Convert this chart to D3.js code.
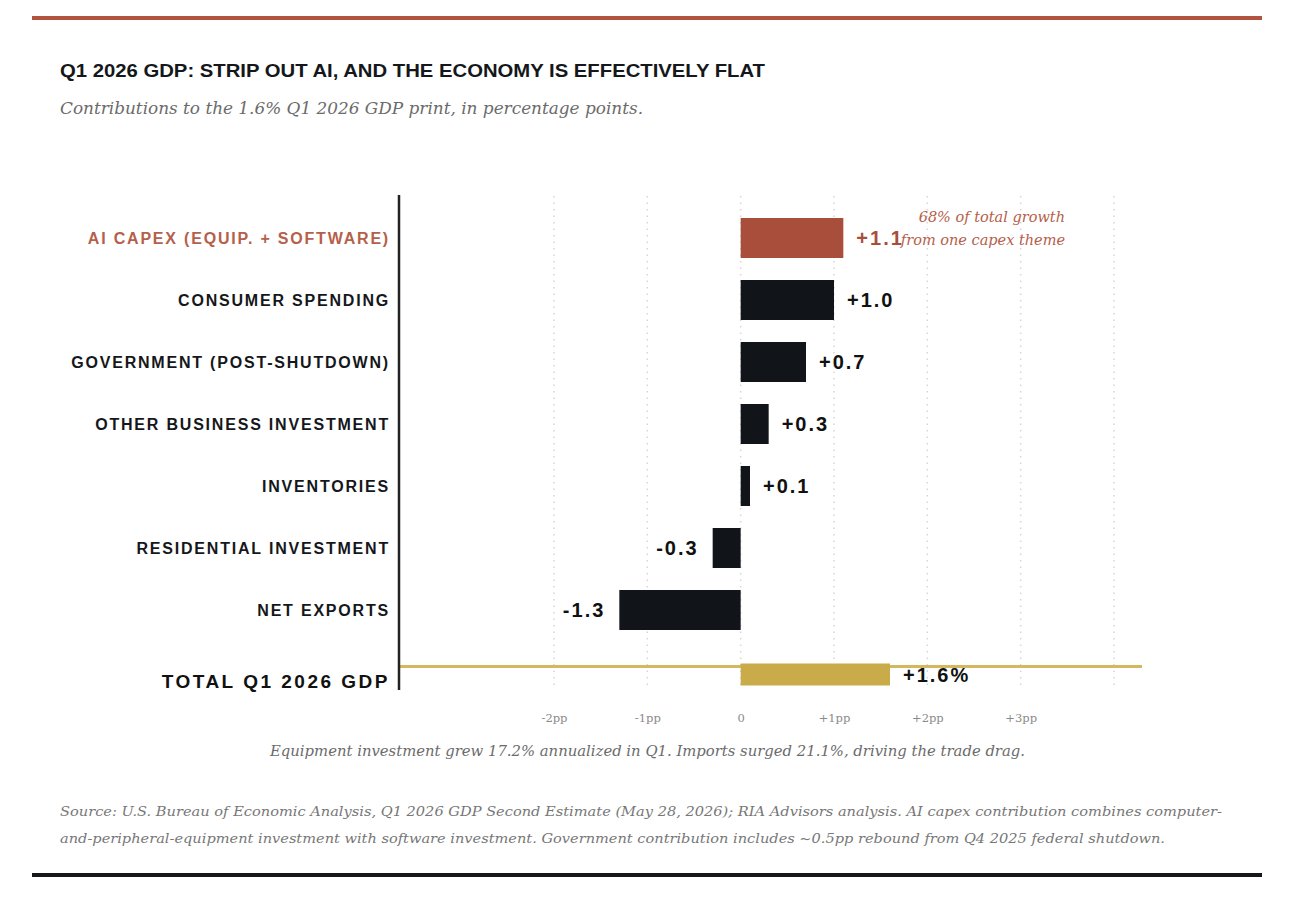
<!DOCTYPE html>
<html>
<head>
<meta charset="utf-8">
<script src="https://cdn.jsdelivr.net/npm/d3@7"></script>
<style>
  html, body { margin: 0; padding: 0; background: #fff; }
  svg { display: block; }
</style>
</head>
<body>
<svg id="chart" width="1308" height="924"></svg>
<script>
// Data
const categories = [
    'AI CAPEX (EQUIP. + SOFTWARE)',
    'CONSUMER SPENDING',
    'GOVERNMENT (POST-SHUTDOWN)',
    'OTHER BUSINESS INVESTMENT',
    'INVENTORIES',
    'RESIDENTIAL INVESTMENT',
    'NET EXPORTS'
];
const contributions = [1.1, 1.0, 0.7, 0.3, 0.1, -0.3, -1.3];
const totalLabel = 'TOTAL Q1 2026 GDP';
const totalValue = 1.6;
const gridTicks = [-2, -1, 0, 1, 2, 3, 4];
const axisTicks = [-2, -1, 0, 1, 2, 3];

const RUST = '#a84e3a';
const INK = '#111418';
const GOLD = '#c9ab4a';
const SANS = '"Liberation Sans", Arial, sans-serif';
const SERIF = '"DejaVu Serif", Georgia, serif';

const svg = d3.select('#chart');

// Top and bottom rules
svg.append('rect').attr('x', 32).attr('y', 16).attr('width', 1230).attr('height', 4).attr('fill', '#b0533f');
svg.append('rect').attr('x', 32).attr('y', 873).attr('width', 1230).attr('height', 4).attr('fill', '#15171b');

// Title + subtitle
svg.append('text')
    .attr('x', 60).attr('y', 77)
    .attr('textLength', 705).attr('lengthAdjust', 'spacingAndGlyphs')
    .style('font-family', SANS).style('font-weight', 700).style('font-size', '18px')
    .attr('fill', '#15171b')
    .text('Q1 2026 GDP: STRIP OUT AI, AND THE ECONOMY IS EFFECTIVELY FLAT');

svg.append('text')
    .attr('x', 60).attr('y', 114)
    .attr('textLength', 583).attr('lengthAdjust', 'spacingAndGlyphs')
    .style('font-family', SERIF).style('font-style', 'italic').style('font-size', '16px')
    .attr('fill', '#6b6b6b')
    .text('Contributions to the 1.6% Q1 2026 GDP print, in percentage points.');

// Scales
const x = d3.scaleLinear().domain([-3.65, 4.3]).range([400, 1142]);
const y = d3.scaleBand().domain(categories).range([207, 641]).paddingInner(0.355).paddingOuter(0.1775);
const totalY = 675;
const totalH = 22;

// Dotted grid
svg.append('g')
    .selectAll('line')
    .data(gridTicks)
    .join('line')
    .attr('x1', d => x(d)).attr('x2', d => x(d))
    .attr('y1', 196).attr('y2', 688)
    .attr('stroke', '#d6d6d6')
    .attr('stroke-width', 1.5)
    .attr('stroke-dasharray', '1.5,5');

// Bottom axis labels (no domain line)
const xAxis = svg.append('g')
    .attr('transform', 'translate(0,711)')
    .call(d3.axisBottom(x).tickValues(axisTicks).tickSize(0)
        .tickFormat(d => d === 0 ? '0' : (d > 0 ? '+' : '-') + Math.abs(d) + 'pp'));
xAxis.select('.domain').remove();
xAxis.selectAll('text')
    .style('font-family', SERIF).style('font-size', '11.5px').attr('fill', '#8a8a8a');

// Total reference line
svg.append('line')
    .attr('x1', 400).attr('x2', x(4.3))
    .attr('y1', 666.5).attr('y2', 666.5)
    .attr('stroke', '#d3b95e').attr('stroke-width', 3);

// Component bars
svg.append('g')
    .selectAll('rect')
    .data(categories)
    .join('rect')
    .attr('x', (d, i) => x(Math.min(0, contributions[i])))
    .attr('y', d => y(d))
    .attr('width', (d, i) => Math.abs(x(contributions[i]) - x(0)))
    .attr('height', y.bandwidth())
    .attr('fill', (d, i) => i === 0 ? RUST : INK);

// Total bar
svg.append('rect')
    .attr('x', x(0)).attr('y', totalY - totalH / 2 - 0.5)
    .attr('width', x(totalValue) - x(0)).attr('height', totalH)
    .attr('fill', GOLD);

// Category labels
svg.append('g')
    .selectAll('text')
    .data(categories)
    .join('text')
    .attr('x', 390)
    .attr('y', d => y(d) + y.bandwidth() / 2)
    .attr('dy', '0.36em')
    .attr('text-anchor', 'end')
    .style('font-family', SANS).style('font-weight', 700).style('font-size', '16px')
    .style('letter-spacing', '1.8px')
    .attr('fill', (d, i) => i === 0 ? '#b5604a' : '#15171b')
    .text(d => d);

svg.append('text')
    .attr('x', 390).attr('y', totalY + 13)
    .attr('text-anchor', 'end')
    .style('font-family', SANS).style('font-weight', 700).style('font-size', '19px')
    .style('letter-spacing', '2.5px')
    .attr('fill', '#111')
    .text(totalLabel);

// Value labels
const fmt = v => (v > 0 ? '+' : '-') + Math.abs(v).toFixed(1);
svg.append('g')
    .selectAll('text')
    .data(contributions)
    .join('text')
    .attr('x', v => v >= 0 ? x(v) + 13 : x(v) - 14)
    .attr('y', (v, i) => y(categories[i]) + y.bandwidth() / 2)
    .attr('dy', '0.36em')
    .attr('text-anchor', v => v >= 0 ? 'start' : 'end')
    .style('font-family', SANS).style('font-weight', 700).style('font-size', '20px')
    .style('letter-spacing', '2px')
    .attr('fill', (v, i) => i === 0 ? RUST : '#111')
    .text(fmt);

svg.append('text')
    .attr('x', x(totalValue) + 13).attr('y', totalY + 7)
    .style('font-family', SANS).style('font-weight', 700).style('font-size', '20px')
    .style('letter-spacing', '2px')
    .attr('fill', '#111')
    .text('+' + totalValue.toFixed(1) + '%');

// Annotation next to AI capex bar
const note = svg.append('text')
    .attr('text-anchor', 'end')
    .style('font-family', SERIF).style('font-style', 'italic').style('font-size', '14.5px')
    .attr('fill', '#b5604a');
note.append('tspan').attr('x', 1065).attr('y', 222).text('68% of total growth');
note.append('tspan').attr('x', 1065).attr('y', 245).text('from one capex theme');

// Y axis rule
svg.append('line')
    .attr('x1', 399).attr('x2', 399)
    .attr('y1', 195).attr('y2', 690)
    .attr('stroke', '#222').attr('stroke-width', 2.5);

// Chart footnote
svg.append('text')
    .attr('x', 270).attr('y', 756)
    .attr('textLength', 755).attr('lengthAdjust', 'spacingAndGlyphs')
    .style('font-family', SERIF).style('font-style', 'italic').style('font-size', '14px')
    .attr('fill', '#6b6b6b')
    .text('Equipment investment grew 17.2% annualized in Q1. Imports surged 21.1%, driving the trade drag.');

// Source
const src = svg.append('text')
    .style('font-family', SERIF).style('font-style', 'italic').style('font-size', '13px')
    .attr('fill', '#777');
src.append('tspan').attr('x', 60).attr('y', 816)
    .attr('textLength', 1162).attr('lengthAdjust', 'spacingAndGlyphs')
    .text('Source: U.S. Bureau of Economic Analysis, Q1 2026 GDP Second Estimate (May 28, 2026); RIA Advisors analysis. AI capex contribution combines computer-');
src.append('tspan').attr('x', 60).attr('y', 843)
    .attr('textLength', 1105).attr('lengthAdjust', 'spacingAndGlyphs')
    .text('and-peripheral-equipment investment with software investment. Government contribution includes ~0.5pp rebound from Q4 2025 federal shutdown.');
</script>
</body>
</html>
